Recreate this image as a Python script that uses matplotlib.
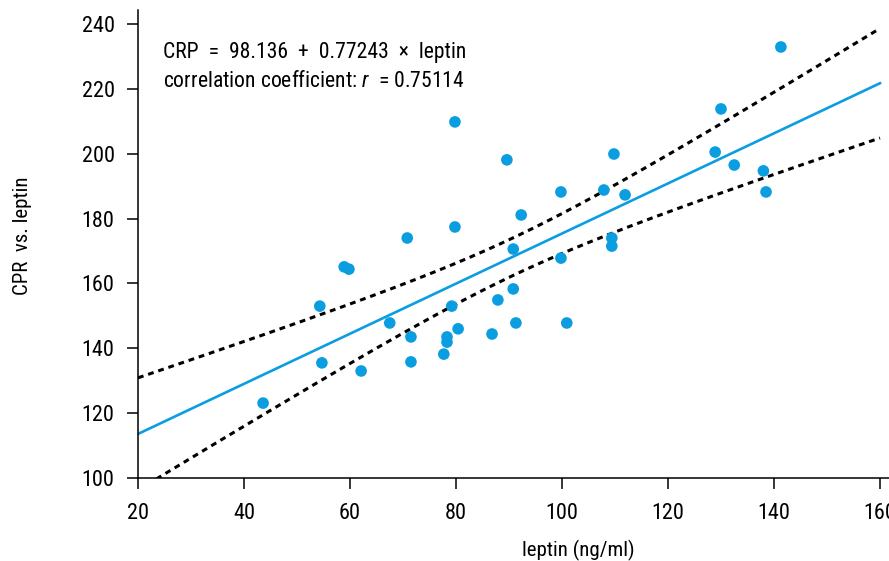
import numpy as np
import matplotlib
matplotlib.use("Agg")
import matplotlib.pyplot as plt

# ---- data ----
leptin = [43.6, 54.3, 54.7, 58.9, 59.8, 62.1, 67.5, 70.8, 71.5, 71.5,
          77.7, 78.3, 78.3, 79.2, 79.8, 79.8, 80.4, 86.8, 87.9, 89.6,
          90.8, 90.8, 91.3, 92.3, 99.8, 99.8, 100.9, 107.9, 109.4, 109.4,
          109.8, 111.9, 128.9, 130.0, 132.5, 138.0, 138.5, 141.3]
crp = [123.1, 153.0, 135.5, 165.1, 164.4, 133.0, 147.8, 174.0, 143.5, 135.8,
       138.2, 143.5, 141.9, 153.0, 177.4, 209.8, 146.0, 144.4, 154.9, 198.1,
       170.6, 158.3, 147.8, 181.1, 188.2, 167.8, 147.8, 188.8, 174.0, 171.5,
       199.9, 187.3, 200.5, 213.8, 196.5, 194.7, 188.2, 232.9]
intercept = 98.136
slope = 0.77243
r_value = 0.75114
x_ticks = [20, 40, 60, 80, 100, 120, 140, 160]
y_ticks = [100, 120, 140, 160, 180, 200, 220, 240]
t_crit = 2.028  # Student t, 0.975 quantile, 36 d.o.f.

FONT = ['Roboto Condensed', 'DejaVu Sans Condensed', 'Liberation Sans Narrow', 'DejaVu Sans']
plt.rcParams['font.family'] = FONT
plt.rcParams['font.stretch'] = 'condensed'
plt.rcParams['mathtext.fontset'] = 'custom'
plt.rcParams['mathtext.rm'] = 'Roboto Condensed'
plt.rcParams['mathtext.it'] = 'Roboto Condensed:italic'

BLUE = '#0a9ee0'

fig = plt.figure(figsize=(8.89, 5.61), dpi=100)
ax = fig.add_axes([138/889, (561-478)/561, (889-138)/889, 468/561])

x = np.asarray(leptin)
y = np.asarray(crp)
n = len(x)
xbar = x.mean()
sxx = ((x - xbar) ** 2).sum()
resid = y - (intercept + slope * x)
s = np.sqrt((resid ** 2).sum() / (n - 2))

xf = np.linspace(20, 160, 300)
yf = intercept + slope * xf
half = t_crit * s * np.sqrt(1.0 / n + (xf - xbar) ** 2 / sxx)

ax.plot(xf, yf, color=BLUE, lw=1.9, zorder=2)
ax.plot(xf, yf + half, color='black', lw=2.2, dashes=(1.9, 1.6), zorder=2)
ax.plot(xf, yf - half, color='black', lw=2.2, dashes=(1.9, 1.6), zorder=2)
ax.scatter(x, y, s=70, color=BLUE, edgecolors='none', zorder=3)

ax.set_xlim(20, 161.7)
ax.set_ylim(100, 244.3)
ax.set_xticks(x_ticks)
ax.set_yticks(y_ticks)
for sp in ['top', 'right']:
    ax.spines[sp].set_visible(False)
for sp in ['left', 'bottom']:
    ax.spines[sp].set_linewidth(1.1)
ax.tick_params(axis='both', direction='out', length=7.9, width=1.1, labelsize=16)
ax.tick_params(axis='x', pad=10)
ax.tick_params(axis='y', pad=9)

ax.set_xlabel('leptin (ng/ml)', fontsize=15, va='top')
ax.xaxis.set_label_coords((578 - 138) / 751, (478 - 540) / 468)
ax.set_ylabel('CPR  vs. leptin', fontsize=15, va='center')
ax.yaxis.set_label_coords((22 - 138) / 751, (478 - 236) / 468)

ax.text((163 - 138) / 751, (478 - 58) / 468,
        f'CRP  =  {intercept:.3f}  +  {slope:.5f}  \u00d7  leptin',
        transform=ax.transAxes, fontsize=15.6, va='baseline', ha='left')
ax.text((163 - 138) / 751, (478 - 87) / 468,
        f'correlation coefficient: $r$  = {r_value:.5f}',
        transform=ax.transAxes, fontsize=15.6, va='baseline', ha='left')

fig.savefig('out.png', dpi=100)
